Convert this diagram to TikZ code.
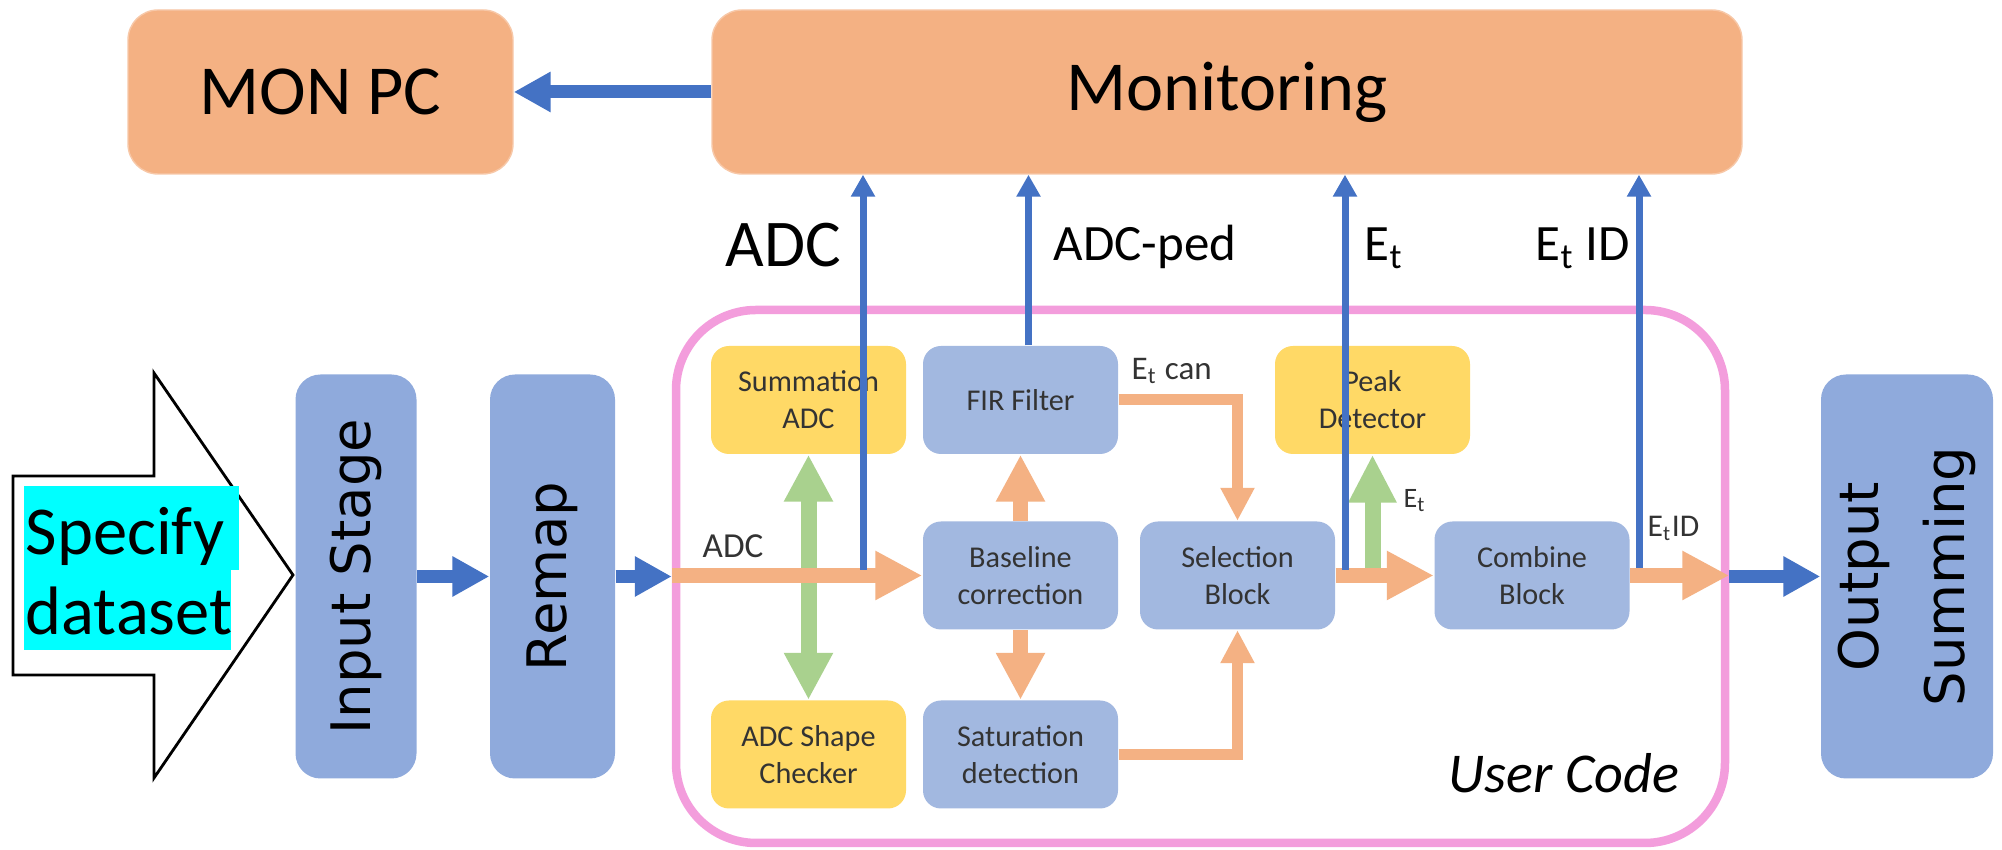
\documentclass[tikz,border=0pt]{standalone}
\usepackage{fontspec}
\setmainfont{Carlito}
\newfontfamily\stagefont{DejaVu Sans}
\usetikzlibrary{arrows.meta}
\usetikzlibrary{positioning}

\definecolor{monorange}{HTML}{F4B183}
\definecolor{stageblue}{HTML}{8FAADC}
\definecolor{innerblue}{HTML}{A2B8E0}
\definecolor{detyellow}{HTML}{FFD966}
\definecolor{flowgreen}{HTML}{A9D18E}
\definecolor{linkblue}{HTML}{4472C4}
\definecolor{userpink}{HTML}{F39DDC}
\definecolor{hlcyan}{HTML}{00FFFF}

\begin{document}
\begin{tikzpicture}[
		monbox/.style={rectangle, rounded corners=0.3cm, fill=monorange, draw=monorange!70!white,
			minimum height=1.64cm, inner sep=0pt, font=\fontsize{20}{24}\selectfont},
		stagebox/.style={rectangle, rounded corners=0.25cm, fill=stageblue, rotate=90,
			minimum width=4.04cm, inner sep=0pt, align=center, font=\stagefont\fontsize{15.5}{24.5}\selectfont},
		innerbox/.style={rectangle, rounded corners=0.18cm, fill=innerblue, minimum width=1.95cm,
			minimum height=1.08cm, inner sep=0pt, align=center, text=black!80,
			font=\fontsize{8.6}{10.5}\selectfont},
		yellowbox/.style={innerbox, fill=detyellow},
		lbl/.style={inner sep=0pt, anchor=base west},
		hilite/.style={fill=hlcyan, inner xsep=0.02cm, inner ysep=0pt, anchor=base west,
			text height=0.685cm, text depth=0.155cm, align=left, font=\fontsize{19.5}{23}\selectfont},
		bluearrow/.style={line width=0.13cm, linkblue, -{Triangle[length=0.37cm, width=0.38cm]}},
		monline/.style={line width=0.07cm, linkblue, -{Triangle[length=0.22cm, width=0.23cm]}},
		orangearrow/.style={line width=0.15cm, monorange, -{Triangle[length=0.47cm, width=0.46cm]}},
		thinorange/.style={line width=0.11cm, monorange, -{Triangle[length=0.33cm, width=0.32cm]}},
		greenline/.style={line width=0.16cm, flowgreen},
		]
		\useasboundingbox (0,0) rectangle (20.02,-8.5);

		% Monitoring row
		\node[monbox, minimum width=3.85cm] (monpc) at (3.205,-0.92) {MON PC};
		\node[monbox, minimum width=10.30cm] (monitor) at (12.27,-0.92) {Monitoring};

		% Input side
		\draw[line width=0.8pt, fill=white] (0.13,-4.76) -- (1.54,-4.76) -- (1.54,-3.73)
			-- (2.93,-5.75) -- (1.54,-7.78) -- (1.54,-6.75) -- (0.13,-6.75) -- cycle;
		\node[hilite, text width=2.11cm] (spec1) at (0.23,-5.55) {Specify};
		\node[hilite, text width=2.03cm] (spec2) at (0.23,-6.35) {dataset};

		\node[stagebox, minimum height=1.21cm] (input) at (3.56,-5.765) {Input Stage};
		\node[stagebox, minimum height=1.25cm] (remap) at (5.525,-5.765) {Remap};
		\node[stagebox, minimum height=1.72cm] (output) at (19.07,-5.765) {Output\\Summing};

		% User code
		\node[draw=userpink, line width=0.085cm, fill=white, rounded corners=0.8cm,
			minimum width=10.49cm, minimum height=5.33cm] (user) at (12.005,-5.765) {};
		\node[lbl, font=\fontsize{16}{19}\selectfont\itshape] (usertag) at (14.48,-7.93) {User Code};

		\node[yellowbox] (sumadc) at (8.085,-4.00) {Summation\\ADC};
		\node[innerbox] (firfilt) at (10.205,-4.00) {FIR Filter};
		\node[yellowbox] (peakdet) at (13.725,-4.00) {Peak\\Detector};
		\node[innerbox] (baseline) at (10.205,-5.755) {Baseline\\correction};
		\node[innerbox] (selblock) at (12.375,-5.755) {Selection\\Block};
		\node[innerbox] (combblk) at (15.32,-5.755) {Combine\\Block};
		\node[yellowbox] (shapechk) at (8.085,-7.545) {ADC Shape\\Checker};
		\node[innerbox] (satdet) at (10.205,-7.545) {Saturation\\detection};

		% Taps
		\coordinate (adctap) at (8.63,-5.70);
		\coordinate (ettap) at (13.45,-5.70);
		\coordinate (etidtap) at (16.39,-5.68);

		% Green arrows
		\draw[greenline, {Triangle[length=0.47cm, width=0.46cm]}-{Triangle[length=0.47cm, width=0.46cm]}]
			(sumadc) -- (shapechk);
		\draw[greenline, -{Triangle[length=0.48cm, width=0.45cm]}] (peakdet.south |- ettap) -- (peakdet.south);

		% Orange arrows
		\draw[orangearrow] (user.west |- baseline) -- (baseline);
		\draw[orangearrow] (baseline) -- (firfilt);
		\draw[orangearrow] (baseline) -- (satdet);
		\draw[thinorange] (firfilt) -| (selblock);
		\draw[thinorange] (satdet) -| (selblock);
		\draw[orangearrow] (selblock) -- (combblk);
		\draw[orangearrow] (combblk) -- (combblk -| user.east);

		% Blue arrows
		\draw[bluearrow] (monitor) -- (monpc);
		\draw[bluearrow] (input) -- (remap);
		\draw[bluearrow] (remap) -- (remap -| user.west);
		\draw[bluearrow] (user.east |- output) -- (output);

		\draw[monline] (adctap) -- (adctap |- monitor.south);
		\draw[monline] ([xshift=0.08cm]firfilt.north) -- ([xshift=0.08cm]firfilt.north |- monitor.south);
		\draw[monline] (ettap) -- (ettap |- monitor.south);
		\draw[monline] (etidtap) -- (etidtap |- monitor.south);

		% Labels
		\node[lbl, font=\fontsize{19}{23}\selectfont] (adclbl) at (7.25,-2.67) {ADC};
		\node[lbl, font=\fontsize{14.5}{17}\selectfont] (pedlbl) at (10.53,-2.61) {ADC-ped};
		\node[lbl, font=\fontsize{14.5}{17}\selectfont] (etlbl) at (13.64,-2.61) {E\textsubscript{t}};
		\node[lbl, font=\fontsize{14.5}{17}\selectfont] (etidlbl) at (15.35,-2.61) {E\textsubscript{t} ID};
		\node[lbl, font=\fontsize{10}{12}\selectfont, text=black!80] (adcin) at (7.02,-5.58) {ADC};
		\node[lbl, font=\fontsize{9.4}{11}\selectfont, text=black!80] (etcan) at (11.31,-3.80) {E\textsubscript{t} can};
		\node[lbl, font=\fontsize{8}{10}\selectfont, text=black!80] (etpeak) at (14.03,-5.08) {E\textsubscript{t}};
		\node[lbl, font=\fontsize{9}{11}\selectfont, text=black!80] (etid) at (16.47,-5.37) {E\textsubscript{t}ID};
	\end{tikzpicture}
\end{document}
